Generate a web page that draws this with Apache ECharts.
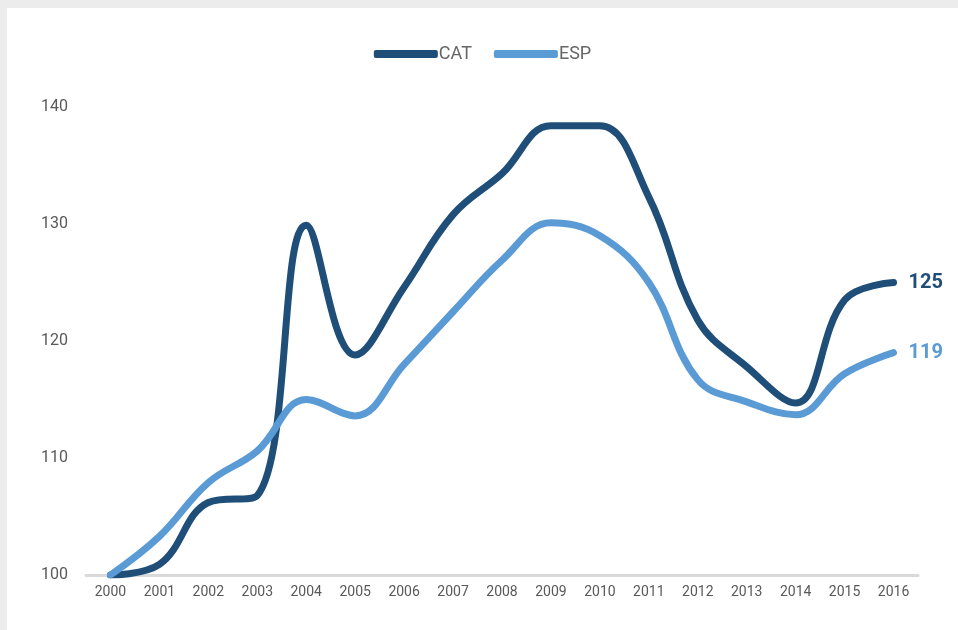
<!DOCTYPE html>
<html>
<head>
<meta charset="utf-8">
<script src="https://cdn.jsdelivr.net/npm/echarts@6/dist/echarts.min.js"></script>
<style>
  html, body { margin: 0; padding: 0; background: #ebeceb; width: 958px; height: 630px; overflow: hidden; }
  #chart { position: absolute; left: 7px; top: 8px; width: 951px; height: 622px; background: #ffffff; }
</style>
</head>
<body>
<div id="chart"></div>
<script>
// Index (2000 = 100), Catalonia vs Spain
const years = ['2000','2001','2002','2003','2004','2005','2006','2007','2008',
               '2009','2010','2011','2012','2013','2014','2015','2016'];
const catValues = [100, 100.9, 106.2, 106.8, 129.9, 118.8, 124.6, 130.8, 134.3,
                   138.4, 138.4, 132.3, 121.8, 117.8, 114.7, 123.5, 125];
const espValues = [100, 103.3, 107.9, 110.6, 115.0, 113.6, 118.0, 122.5, 126.9,
                   130.1, 129.0, 125.0, 116.7, 114.8, 113.7, 117.2, 119];
const yTicks = { min: 100, max: 140, interval: 10 };

const CAT_COLOR = '#1f4e79';
const ESP_COLOR = '#5b9bd5';
const TEXT_COLOR = '#595959';

const chart = echarts.init(document.getElementById('chart'), null, { renderer: 'canvas' });

function lineSeries(name, data, color) {
  return {
    name: name,
    type: 'line',
    data: data,
    smooth: 0.4,
    symbol: 'none',
    lineStyle: { color: color, width: 7, cap: 'round', join: 'round' },
    itemStyle: { color: color },
    endLabel: {
      show: true,
      distance: 15,
      color: color,
      fontFamily: 'Roboto, sans-serif',
      fontWeight: 'bold',
      fontSize: 20,
      formatter: p => String(Math.round(p.value))
    },
    emphasis: { disabled: true }
  };
}

chart.setOption({
  animation: false,
  backgroundColor: '#ffffff',
  textStyle: { fontFamily: 'Roboto, sans-serif' },
  legend: {
    top: 32,
    left: 'center',
    itemWidth: 64,
    itemHeight: 8,
    itemGap: 22,
    icon: 'roundRect',
    textStyle: { color: '#666666', fontSize: 18, fontFamily: 'Roboto, sans-serif', padding: [0, 0, 0, -4] },
    data: [
      { name: 'CAT', itemStyle: { color: CAT_COLOR } },
      { name: 'ESP', itemStyle: { color: ESP_COLOR } }
    ]
  },
  grid: { left: 79, right: 40, top: 99, bottom: 55, containLabel: false },
  xAxis: {
    type: 'category',
    data: years,
    boundaryGap: true,
    axisLine: { show: true, lineStyle: { color: '#d9d9d9', width: 3 } },
    axisTick: { show: false },
    axisLabel: { color: TEXT_COLOR, fontSize: 14, margin: 10 },
    splitLine: { show: false }
  },
  yAxis: {
    type: 'value',
    min: yTicks.min,
    max: yTicks.max,
    interval: yTicks.interval,
    axisLine: { show: false },
    axisTick: { show: false },
    splitLine: { show: false },
    axisLabel: { color: TEXT_COLOR, fontSize: 16, margin: 18 }
  },
  series: [
    lineSeries('CAT', catValues, CAT_COLOR),
    lineSeries('ESP', espValues, ESP_COLOR)
  ]
});
</script>
</body>
</html>
